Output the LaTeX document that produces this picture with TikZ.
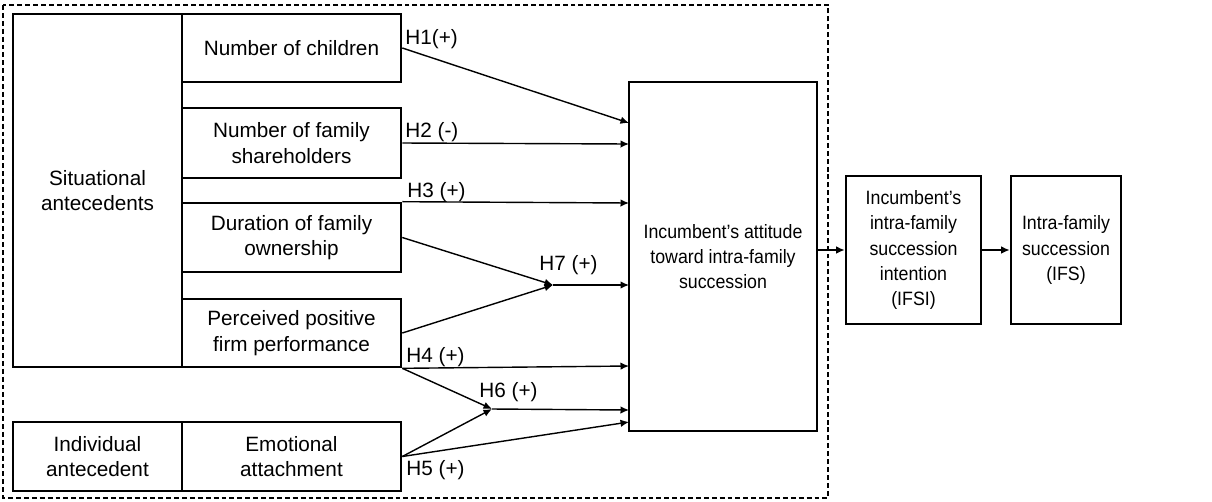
\documentclass[tikz,border=0pt]{standalone}
\usepackage{fontspec}
\setmainfont{Liberation Sans}
\newfontfamily\narrowsans[FakeStretch=0.92]{Liberation Sans}
\usetikzlibrary{arrows.meta}

\begin{document}
\begin{tikzpicture}[x=0.02cm, y=-0.02cm,
   box/.style={draw, line width=1.5pt, align=center, inner sep=0pt, font=\fontsize{11.8}{14.4}\selectfont},
   outbox/.style={box, font=\narrowsans\fontsize{11}{14.4}\selectfont},
   link/.style={line width=0.8pt, -{Latex[length=1.7mm, width=1.5mm]}},
   hyp/.style={anchor=west, inner sep=0pt, font=\fontsize{11.8}{14.4}\selectfont}]
   \useasboundingbox (0,0) rectangle (1212,501);
   \draw[line width=0.8pt, dash pattern=on 2.8pt off 1.7pt] (3,5) rectangle (828,498);
   % antecedents
   \node[box, minimum width=3.38cm, minimum height=7.06cm] (sit) at (97.5,190.5) {Situational\\antecedents};
   \node[box, minimum width=4.38cm, minimum height=1.36cm] (child) at (291.5,48) {Number of children};
   \node[box, minimum width=4.38cm, minimum height=1.40cm] (share) at (291.5,143) {Number of family\\shareholders};
   \node[box, minimum width=4.38cm, minimum height=1.38cm] (dur) at (291.5,237.5) {Duration of family\\ownership};
   \node[box, minimum width=4.38cm, minimum height=1.36cm] (perf) at (291.5,333) {Perceived positive\\firm performance};
   \node[box, minimum width=3.38cm, minimum height=1.38cm] (indiv) at (97.5,456.5) {Individual\\antecedent};
   \node[box, minimum width=4.38cm, minimum height=1.38cm] (emo) at (291.5,456.5) {Emotional\\attachment};
   % outcomes
   \node[outbox, minimum width=3.76cm, minimum height=6.98cm] (att) at (723,256.5) {Incumbent’s attitude\\toward intra-family\\succession};
   \node[outbox, minimum width=2.70cm, minimum height=2.96cm] (ifsi) at (913.5,250) {Incumbent’s\\intra-family\\succession\\intention\\(IFSI)};
   \node[outbox, minimum width=2.20cm, minimum height=2.96cm] (ifs) at (1066,250) {Intra-family\\succession\\(IFS)};
   % end points on the attitude box and junctions
   \coordinate (a1) at (629,123);
   \coordinate (a2) at (629,144);
   \coordinate (a3) at (629,203);
   \coordinate (a7) at (629,285);
   \coordinate (a4) at (629,366);
   \coordinate (a6) at (629,410);
   \coordinate (a5) at (629,422);
   \coordinate (j7) at (553,285);
   \coordinate (j6) at (492,409);
   \draw[link] (child.east) -- (a1);
   \draw[link] (share.east) -- (a2);
   \draw[link] (dur.north east) -- (a3);
   \draw[link] (dur.east) -- (j7);
   \draw[link] (perf.east) -- (j7);
   \draw[link] (j7) -- (a7);
   \draw[link] (perf.south east) -- (a4);
   \draw[link] (perf.south east) -- (j6);
   \draw[link] (emo.east) -- (j6);
   \draw[link] (j6) -- (a6);
   \draw[link] (emo.east) -- (a5);
   \draw[link] (att.east |- ifsi.west) -- (ifsi.west);
   \draw[link] (ifsi) -- (ifs);
   % hypotheses
   \node[hyp] (h1) at (405,39) {H1(+)};
   \node[hyp] (h2) at (405,132) {H2 (-)};
   \node[hyp] (h3) at (407,192) {H3 (+)};
   \node[hyp] (h7) at (539,265) {H7 (+)};
   \node[hyp] (h4) at (406,357) {H4 (+)};
   \node[hyp] (h6) at (479,392) {H6 (+)};
   \node[hyp] (h5) at (406,470) {H5 (+)};
\end{tikzpicture}
\end{document}
